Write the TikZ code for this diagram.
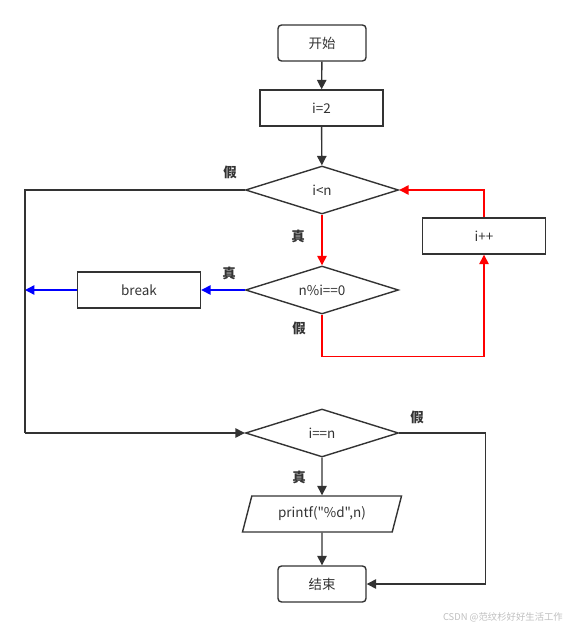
\documentclass[tikz,border=0pt]{standalone}
\usepackage{fontspec}
\setmainfont{Noto Sans CJK SC}
\setmonofont{Noto Sans CJK SC}
\usetikzlibrary{shapes.geometric,arrows.meta}

\definecolor{ink}{HTML}{333333}
\definecolor{redl}{HTML}{FF0000}
\definecolor{bluel}{HTML}{0000FF}

\begin{document}
\begin{tikzpicture}[x=0.03cm, y=-0.03cm,
		every node/.style={font=\fontsize{11.5}{13}\selectfont, text=ink},
		term/.style={draw=ink, line width=1.2pt, rounded corners=3pt, minimum width=2.64cm, minimum height=1.08cm},
		proc/.style={draw=ink, line width=1.2pt, minimum width=3.69cm, minimum height=1.08cm},
		cond/.style={draw=ink, line width=1.2pt, diamond, aspect=3.2, inner sep=0pt, minimum width=4.59cm, minimum height=1.44cm},
		io/.style={draw=ink, line width=1.2pt, trapezium, trapezium left angle=67, trapezium right angle=113,
			trapezium stretches body, minimum width=4.77cm, minimum height=1.08cm},
		tag/.style={font=\fontsize{11.5}{13}\selectfont\bfseries},
		flow/.style={draw=ink, line width=1.2pt, -{Triangle[length=8pt,width=8pt]}},
		plain/.style={draw=ink, line width=1.2pt},
		redflow/.style={draw=redl, line width=1.2pt, -{Triangle[length=8pt,width=8pt]}},
		blueflow/.style={draw=bluel, line width=1.2pt, -{Triangle[length=8pt,width=8pt]}}]
		\useasboundingbox (0,0) rectangle (570,627);
		
		% boxes
		\node[term] (start) at (322,43) {开始};
		\node[proc] (init) at (321.5,108) {i=2};
		\node[cond] (dlt) at (322,190) {i<n};
		\node[proc] (inc) at (484,236) {i++};
		\node[cond] (dmod) at (322,290) {n\%i==0};
		\node[proc] (brk) at (139,290) {break};
		\node[cond] (deq) at (322,433) {i==n};
		\node[io] (out) at (322,514) {\ttfamily printf("\%d",n)};
		\node[term] (stop) at (322,584) {结束};
		
		\coordinate (lft) at (25,433);
		\coordinate (bout) at (25,290);
		
		% main line
		\draw[flow] (start) -- (init);
		\draw[flow] (init) -- (dlt);
		\draw[flow] (deq) -- (out);
		\draw[flow] (out) -- (stop);
		
		% loop
		\draw[redflow] (dlt) -- (dmod);
		\draw[redflow] (dmod.south) -- ++(0,42) -| (inc.south);
		\draw[redflow] (inc.north) |- (dlt.east);
		
		% break
		\draw[blueflow] (dmod.west) -- (brk.east);
		\draw[blueflow] (brk.west) -- (bout);
		
		% exits
		\draw[plain] (dlt.west) -| (lft);
		\draw[flow] (lft) -- (deq.west);
		\draw[flow] (deq.east) -- ++(86,0) |- (stop.east);
		
		% labels
		\node[tag] (t1) at (230,172) {假};
		\node[tag] (t2) at (298,236) {真};
		\node[tag] (t3) at (229,273) {真};
		\node[tag] (t4) at (299,328) {假};
		\node[tag] (t5) at (417,417) {假};
		\node[tag] (t6) at (299,477) {真};
		
		\node[anchor=east, font=\fontsize{8}{10}\selectfont, text=black!25] (mark) at (567,617) {CSDN @范纹杉好好生活工作};
	\end{tikzpicture}
\end{document}
